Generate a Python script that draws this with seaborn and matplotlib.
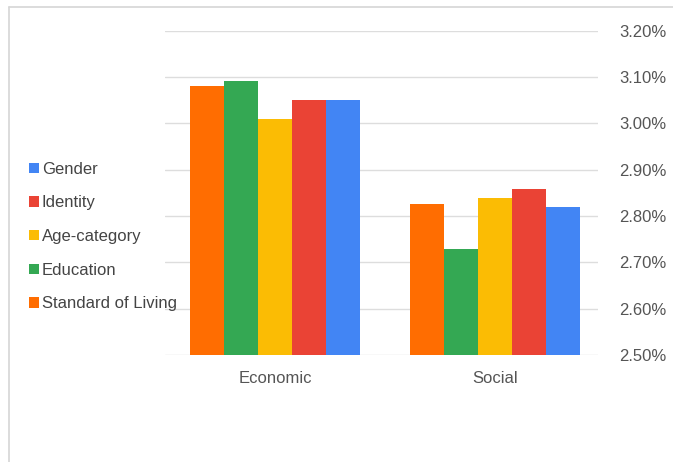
import matplotlib
matplotlib.use("Agg")
import matplotlib.pyplot as plt
import seaborn as sns
import pandas as pd
from matplotlib.patches import Patch
from matplotlib.lines import Line2D

categories = ["Economic", "Social"]
series = ["Standard of Living", "Education", "Age-category", "Identity", "Gender"]
standard_of_living = [3.081, 2.827]
education = [3.091, 2.729]
age_category = [3.009, 2.840]
identity = [3.050, 2.859]
gender = [3.050, 2.820]
y_ticks = [2.50, 2.60, 2.70, 2.80, 2.90, 3.00, 3.10, 3.20]
colors = {"Standard of Living": "#ff6d01", "Education": "#34a853",
          "Age-category": "#fbbc04", "Identity": "#ea4335", "Gender": "#4285f4"}

values = {"Standard of Living": standard_of_living, "Education": education,
          "Age-category": age_category, "Identity": identity, "Gender": gender}
rows = []
for s in series:
    for c, v in zip(categories, values[s]):
        rows.append({"category": c, "series": s, "value": v})
df = pd.DataFrame(rows)

sns.set_theme(style="white")
plt.rcParams['font.family'] = ['Liberation Sans', 'DejaVu Sans']

fig = plt.figure(figsize=(6.73, 4.62), dpi=100)
ax = fig.add_axes([0.245, 0.232, 0.644, 0.701])

sns.barplot(data=df, x="category", y="value", hue="series", hue_order=series,
            palette=colors, width=0.773, ax=ax, legend=False, saturation=1,
            linewidth=0, errorbar=None)

ax.set_ylim(2.50, 3.20)
ax.set_xlim(-0.5, 1.47)
ax.set_yticks(y_ticks)
ax.set_yticklabels([f"{t:.2f}%" for t in y_ticks])
ax.yaxis.tick_right()
ax.tick_params(axis="y", length=0, pad=15, labelsize=12, labelcolor="#555555")
ax.tick_params(axis="x", length=0, pad=12, labelsize=12, labelcolor="#555555")
ax.set_xlabel("")
ax.set_ylabel("")
for sp in ax.spines.values():
    sp.set_visible(False)
ax.set_axisbelow(True)
ax.grid(axis="y", color="#dddddd", linewidth=1)
ax.grid(axis="x", visible=False)

handles = [Patch(facecolor=colors[s], edgecolor="none") for s in series[::-1]]
fig.legend(handles, series[::-1], loc="upper left", bbox_to_anchor=(0.03, 0.668),
           frameon=False, fontsize=12, labelcolor="#444444", handlelength=0.6,
           handleheight=0.6, handletextpad=0.2, labelspacing=1.12, borderpad=0)

# light frame lines at top and left edges
fig.add_artist(Line2D([8.5 / 673, 1.0], [1 - 6.5 / 462, 1 - 6.5 / 462],
                      transform=fig.transFigure, color="#d6d6d6", linewidth=1.2))
fig.add_artist(Line2D([8.5 / 673, 8.5 / 673], [0.0, 1 - 6.5 / 462],
                      transform=fig.transFigure, color="#d6d6d6", linewidth=1.2))

fig.savefig("out.png", dpi=100)
